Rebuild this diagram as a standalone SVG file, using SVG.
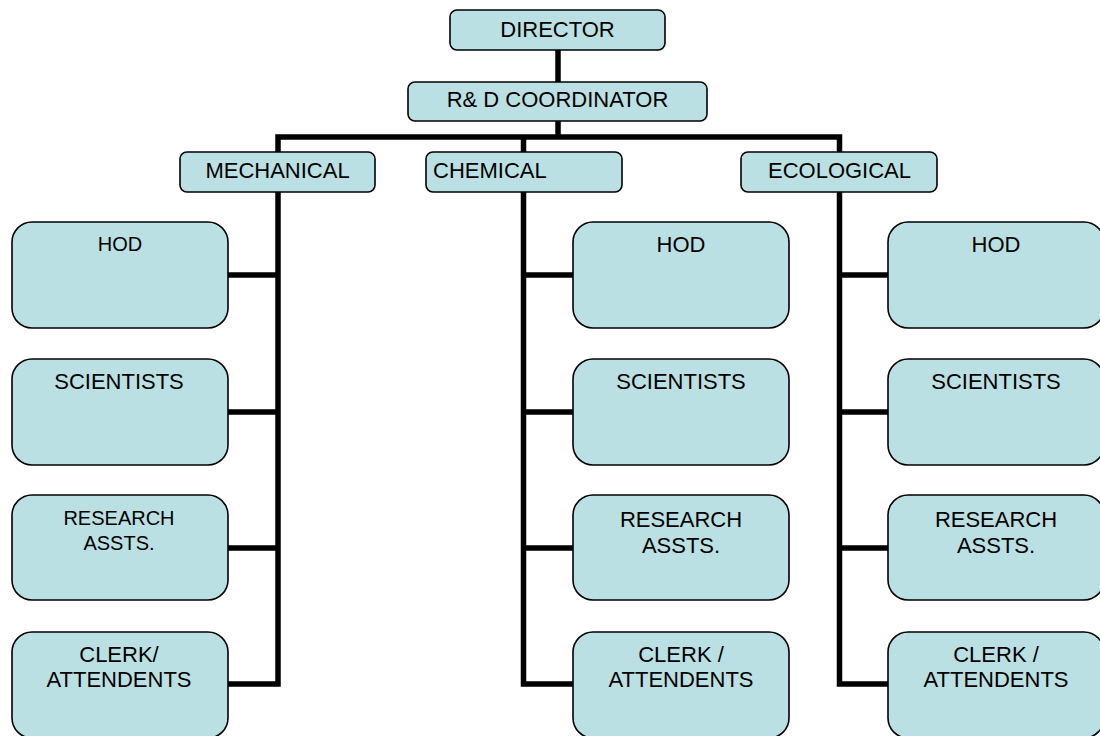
<svg xmlns="http://www.w3.org/2000/svg" width="1100" height="736" viewBox="0 0 1100 736">
<style>
.box{fill:#BBE0E3;stroke:#000;stroke-width:1.6}
.t{font-family:"Liberation Sans",Arial,sans-serif;font-size:22px;fill:#000;text-anchor:middle}
.s{font-size:20px}
.ln{fill:none;stroke:#000;stroke-width:5.5;stroke-linejoin:miter}
</style>
<rect width="1100" height="736" fill="#fff"/>
<g id="connectors">
<path class="ln" d="M558,50 V82 M558,121 V137"/>
<path class="ln" d="M278,152 V137 H839.5 V152 M523.5,137 V152"/>
<path class="ln" d="M278,192 V684 H228 M228,275 H278 M228,412 H278 M228,548 H278"/>
<path class="ln" d="M523.5,192 V684 H573 M523.5,275 H573 M523.5,412 H573 M523.5,548 H573"/>
<path class="ln" d="M839.5,192 V684 H888 M839.5,275 H888 M839.5,412 H888 M839.5,548 H888"/>
</g>
<g id="director"><rect class="box" x="450" y="10" width="215" height="40" rx="7"/><text class="t" x="557.5" y="37">DIRECTOR</text></g>
<g id="coordinator"><rect class="box" x="408" y="82" width="299" height="39" rx="7"/><text class="t" x="557.5" y="107">R&amp; D COORDINATOR</text></g>
<g id="mechanical"><rect class="box" x="180" y="152" width="195" height="40" rx="7"/><text class="t" x="277.5" y="178">MECHANICAL</text></g>
<g id="chemical"><rect class="box" x="426" y="152" width="196" height="40" rx="7"/><text class="t" x="433" y="178" style="text-anchor:start">CHEMICAL</text></g>
<g id="ecological"><rect class="box" x="741" y="152" width="196" height="40" rx="7"/><text class="t" x="839.5" y="178">ECOLOGICAL</text></g>

<g id="mech-hod"><rect class="box" x="12" y="222" width="216" height="106" rx="20"/><text class="t s" x="120" y="251">HOD</text></g>
<g id="mech-sci"><rect class="box" x="12" y="359" width="216" height="106" rx="20"/><text class="t" x="119" y="389">SCIENTISTS</text></g>
<g id="mech-ra"><rect class="box" x="12" y="495" width="216" height="105" rx="20"/><text class="t s" x="119" y="525">RESEARCH</text><text class="t s" x="119" y="550">ASSTS.</text></g>
<g id="mech-clerk"><rect class="box" x="12" y="632" width="216" height="106" rx="20"/><text class="t" x="119" y="662">CLERK/</text><text class="t" x="119" y="687">ATTENDENTS</text></g>

<g id="chem-hod"><rect class="box" x="573" y="222" width="216" height="106" rx="20"/><text class="t" x="681" y="252">HOD</text></g>
<g id="chem-sci"><rect class="box" x="573" y="359" width="216" height="106" rx="20"/><text class="t" x="681" y="389">SCIENTISTS</text></g>
<g id="chem-ra"><rect class="box" x="573" y="495" width="216" height="105" rx="20"/><text class="t" x="681" y="527">RESEARCH</text><text class="t" x="681" y="553">ASSTS.</text></g>
<g id="chem-clerk"><rect class="box" x="573" y="632" width="216" height="106" rx="20"/><text class="t" x="681" y="662">CLERK /</text><text class="t" x="681" y="687">ATTENDENTS</text></g>

<g id="eco-hod"><rect class="box" x="888" y="222" width="216" height="106" rx="20"/><text class="t" x="996" y="252">HOD</text></g>
<g id="eco-sci"><rect class="box" x="888" y="359" width="216" height="106" rx="20"/><text class="t" x="996" y="389">SCIENTISTS</text></g>
<g id="eco-ra"><rect class="box" x="888" y="495" width="216" height="105" rx="20"/><text class="t" x="996" y="527">RESEARCH</text><text class="t" x="996" y="553">ASSTS.</text></g>
<g id="eco-clerk"><rect class="box" x="888" y="632" width="216" height="106" rx="20"/><text class="t" x="996" y="662">CLERK /</text><text class="t" x="996" y="687">ATTENDENTS</text></g>
</svg>
